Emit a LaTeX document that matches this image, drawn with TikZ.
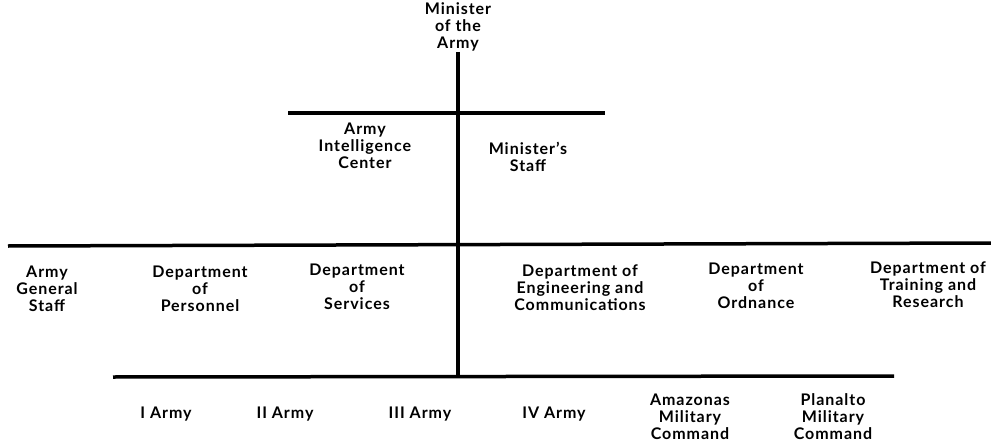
\documentclass[tikz,border=0pt]{standalone}
\usepackage{fontspec}
\setmainfont{Lato}[LetterSpace=6]
\usetikzlibrary{positioning}

\begin{document}
\begin{tikzpicture}[
    x=1pt, y=-1pt,
    unit/.style={align=center, inner sep=0pt, font=\fontsize{16}{17}\selectfont\bfseries},
    bar/.style={line width=3.5pt}
]
    \useasboundingbox (0,0) rectangle (991,444);

    % Minister and his staff
    \node[unit] (minister) at (458,27) {Minister\\of the\\Army};
    \node[unit] (intel) at (365,146) {Army\\Intelligence\\Center};
    \node[unit] (staff) at (528,157) {Minister's\\Staff};

    % Departments
    \node[unit] (general) at (47,289) {Army\\General\\Staff};
    \node[unit] (personnel) at (200,289) {Department\\of\\Personnel};
    \node[unit] (services) at (357,287) {Department\\of\\Services};
    \node[unit] (engineering) at (580,288) {Department of\\Engineering and\\Communications};
    \node[unit] (ordnance) at (756,286) {Department\\of\\Ordnance};
    \node[unit] (training) at (928,285) {Department of\\Training and\\Research};

    % Armies and commands
    \node[unit] (army1) at (166,414) {I Army};
    \node[unit] (army2) at (285,414) {II Army};
    \node[unit] (army3) at (420,414) {III Army};
    \node[unit] (army4) at (554,414) {IV Army};
    \node[unit] (amazonas) at (690,417) {Amazonas\\Military\\Command};
    \node[unit] (planalto) at (833,417) {Planalto\\Military\\Command};

    % Bars
    \coordinate (trunk) at (458,52);
    \coordinate (staffL) at (288,113);
    \coordinate (staffR) at (605,113);
    \coordinate (deptL) at (8,246);
    \coordinate (deptR) at (991,243);
    \coordinate (armyL) at (113,377);
    \coordinate (armyR) at (894,376);
    \coordinate (foot) at (458,377);

    \draw[bar] (staffL) -- (staffR);
    \draw[bar] (deptL) -- (deptR);
    \draw[bar] (armyL) -- (armyR);
    \draw[bar] (trunk) -- (foot);
\end{tikzpicture}
\end{document}
